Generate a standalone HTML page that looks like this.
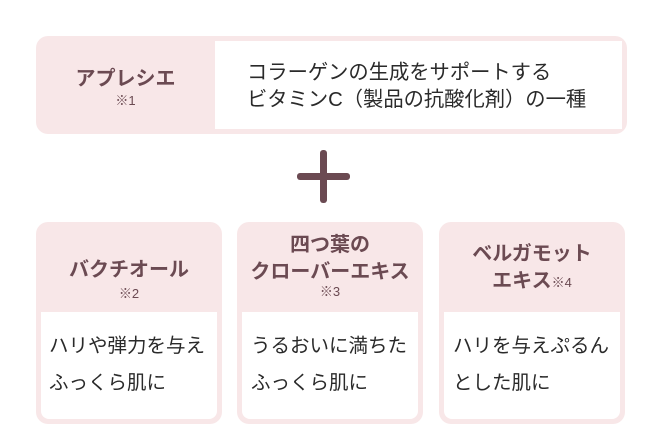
<!DOCTYPE html>
<html><head><meta charset="utf-8"><style>
body{margin:0;width:670px;height:447px;background:#fff;position:relative;font-family:"Liberation Sans","Noto Sans CJK JP",sans-serif;color:#333;overflow:hidden}
.a{position:absolute}
.box{position:absolute;background:#f8e7e8;border-radius:12px}
.wh{position:absolute;background:#fff}
.t{position:absolute;text-align:center;color:#6b4a52;font-weight:bold;font-size:20px;line-height:27px}
.n{font-size:13px;font-weight:normal;color:#6b4a52}
.b{position:absolute;font-size:19.5px;line-height:37px;color:#2a2a2a;white-space:nowrap;font-weight:normal}
</style></head><body>
<div class="box" style="left:36px;top:36px;width:591px;height:98px"></div>
<div class="wh" style="left:215px;top:41px;width:407px;height:88px"></div>
<div class="t" style="left:36px;top:66px;width:179px">アプレシエ</div>
<div class="t n" style="left:36px;top:94px;width:179px;line-height:14px">※1</div>
<div class="b" style="left:247px;top:60px;line-height:27px;font-size:20.3px">コラーゲンの生成をサポートする<br>ビタミンC（製品の抗酸化剤）の一種</div>
<div class="a" style="left:297px;top:173px;width:53px;height:7px;background:#6b4a52;border-radius:3px"></div>
<div class="a" style="left:320px;top:150px;width:7px;height:53px;background:#6b4a52;border-radius:3px"></div>

<div class="box" style="left:36px;top:222px;width:186px;height:202px"></div>
<div class="wh" style="left:41px;top:312px;width:176px;height:107px;border-radius:0 0 8px 8px"></div>
<div class="t" style="left:36px;top:257px;width:186px">バクチオール</div>
<div class="t n" style="left:36px;top:287px;width:186px;line-height:14px">※2</div>
<div class="b" style="left:49px;top:328px">ハリや弾力を与え<br>ふっくら肌に</div>

<div class="box" style="left:237px;top:222px;width:186px;height:202px"></div>
<div class="wh" style="left:242px;top:312px;width:176px;height:107px;border-radius:0 0 8px 8px"></div>
<div class="t" style="left:237px;top:232px;width:186px">四つ葉の<br>クローバーエキス</div>
<div class="t n" style="left:237px;top:285px;width:186px;line-height:14px">※3</div>
<div class="b" style="left:251px;top:328px">うるおいに満ちた<br>ふっくら肌に</div>

<div class="box" style="left:439px;top:222px;width:186px;height:202px"></div>
<div class="wh" style="left:444px;top:312px;width:176px;height:107px;border-radius:0 0 8px 8px"></div>
<div class="t" style="left:439px;top:241px;width:186px">ベルガモット<br>エキス<span class="n">※4</span></div>
<div class="b" style="left:453px;top:328px">ハリを与えぷるん<br>とした肌に</div>
</body></html>
